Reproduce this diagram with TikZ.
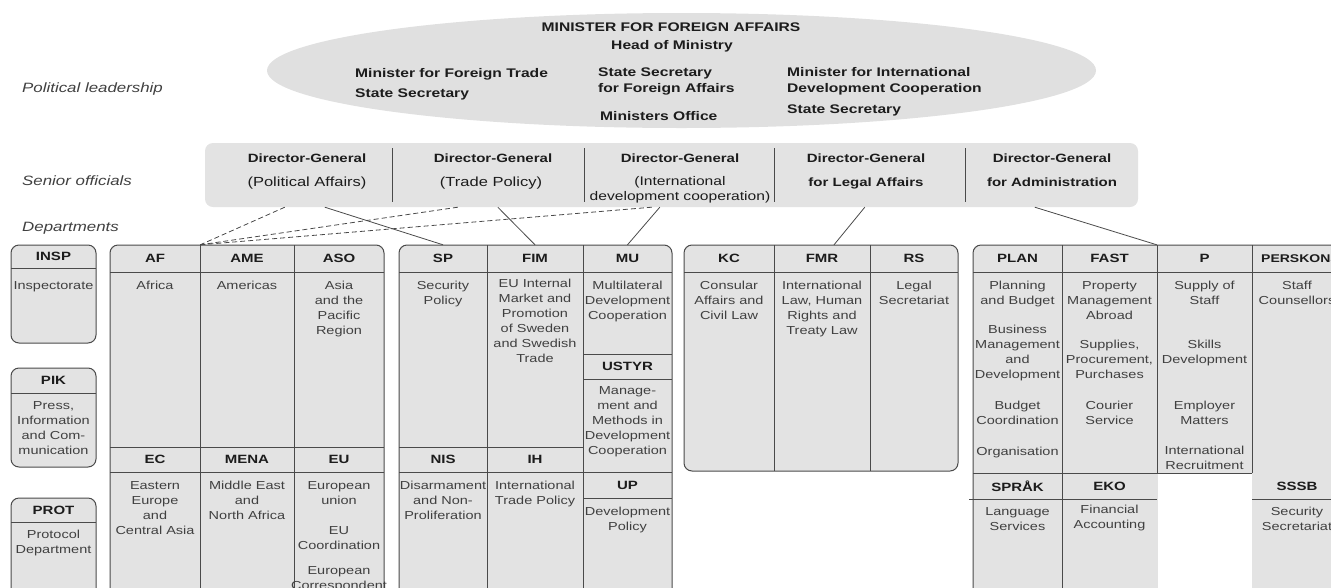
\documentclass[tikz,border=0pt]{standalone}
\usepackage{fontspec}
\setmainfont{Liberation Sans}[FakeStretch=1.25]
\usetikzlibrary{calc,shapes.geometric}
\definecolor{boxgray}{HTML}{E3E3E3}
\definecolor{ellgray}{HTML}{E0E0E0}
\definecolor{linec}{HTML}{4A4A4A}
\definecolor{txtc}{HTML}{404040}
\definecolor{headc}{HTML}{1C1C1C}
\newcommand\fBody{\fontsize{11.6}{15}\selectfont}
\newcommand\fHead{\fontsize{12}{14}\selectfont\bfseries}
\newcommand\fHeadS{\fontsize{11.2}{14}\selectfont\bfseries}
\newcommand\fLead{\fontsize{12.5}{16}\selectfont\bfseries}
\newcommand\fLabel{\fontsize{13.5}{16}\selectfont\itshape}
\newcommand\fDGa{\fontsize{12}{15}\selectfont\bfseries}
\newcommand\fDGb{\fontsize{13.2}{15}\selectfont}
\newcommand\fDGc{\fontsize{12.5}{15}\selectfont}
\begin{document}
\begin{tikzpicture}[x=1pt,y=-1pt,
  hd/.style={font=\fHead, text=headc, inner sep=0pt, minimum height=27pt},
  bd/.style={font=\fBody, text=txtc, align=center, inner sep=0pt, anchor=base},
  lt/.style={font=\fLead, text=headc, inner sep=0pt, align=left, anchor=base west},
  lbl/.style={font=\fLabel, text=txtc, inner sep=0pt, anchor=base west},
  dga/.style={font=\fDGa, text=headc, inner sep=0pt, anchor=base},
  dgb/.style={font=\fDGb, text=headc, inner sep=0pt, anchor=base, align=center},
  tl/.style={line width=1pt, draw=linec},
  grp/.style={fill=boxgray, draw=linec, line width=1pt, rounded corners=8pt},
  conn/.style={line width=0.8pt, draw=linec},
  dconn/.style={conn, dash pattern=on 5pt off 3pt}]
\useasboundingbox (0,0) rectangle (1331,587);
\begin{scope}
\clip (0,0) rectangle (1331,587);

% ---------- political leadership ----------
\node[ellipse, fill=ellgray, minimum width=829pt, minimum height=115pt, inner sep=0pt] (lead) at (681.5,70.5) {};
\node[lt, anchor=base] (mfa) at (671,31.5) {MINISTER FOR FOREIGN AFFAIRS};
\node[lt, anchor=base] (hom) at (672,49.5) {Head of Ministry};
\node[lt] (mft) at (355,77) {Minister for Foreign Trade};
\node[lt] (mfts) at (355,97) {State Secretary};
\node[lt] (ssfa) at (598,92) {State Secretary\\for Foreign Affairs};
\node[lt] (mo) at (600,120) {Ministers Office};
\node[lt] (midc) at (787,92) {Minister for International\\Development Cooperation};
\node[lt] (midcs) at (787,113) {State Secretary};

% ---------- left labels ----------
\node[lbl] (lpol) at (22,92.5) {Political leadership};
\node[lbl] (lsen) at (22,185.5) {Senior officials};
\node[lbl] (ldep) at (22,231.5) {Departments};

% ---------- senior officials ----------
\node[fill=boxgray, rounded corners=8pt, minimum width=933pt, minimum height=64pt, inner sep=0pt] (dgbox) at (671.5,175) {};
\draw[tl] (392,148) -- (392,202) (584,148) -- (584,202) (774,148) -- (774,202) (965,148) -- (965,202);
\node[dga] (dg1) at (307,162.5) {Director-General};
\node[dgb] (dg1s) at (307,186.5) {(Political Affairs)};
\node[dga] (dg2) at (493,162.5) {Director-General};
\node[dgb] (dg2s) at (491,186.5) {(Trade Policy)};
\node[dga] (dg3) at (680,162.5) {Director-General};
\node[dgb, font=\fDGc] (dg3s) at (680,200.5) {(International\\development cooperation)};
\node[dga] (dg4) at (866,162.5) {Director-General};
\node[dga] (dg4s) at (866,186.5) {for Legal Affairs};
\node[dga] (dg5) at (1052,162.5) {Director-General};
\node[dga] (dg5s) at (1052,186.5) {for Administration};

% ---------- staff units ----------
\draw[grp] (11,245) rectangle (96,343); \draw[tl] (11,268) -- (96,268);
\draw[grp] (11,368) rectangle (96,467); \draw[tl] (11,393) -- (96,393);
\draw[grp] (11,498) rectangle (96,640); \draw[tl] (11,522) -- (96,522);
\node[hd, minimum width=85pt, minimum height=23pt] (INSP) at (53.5,256.5) {INSP};
\node[bd] (INSPt) at (53.5,289) {Inspectorate};
\node[hd, minimum width=85pt, minimum height=25pt] (PIK) at (53.5,380.5) {PIK};
\node[bd] (PIKt) at (53.5,454) {Press,\\Information\\and Com-\\munication};
\node[hd, minimum width=85pt, minimum height=24pt] (PROT) at (53.5,510) {PROT};
\node[bd] (PROTt) at (53.5,553) {Protocol\\Department};

% ---------- group 1 ----------
\draw[grp] (110,640) -- (110,245) -- (384,245) -- (384,640);
\draw[tl] (200,245) -- (200,640) (294,245) -- (294,640) (110,272) -- (384,272) (110,447) -- (384,447) (110,472) -- (384,472);
\node[hd, minimum width=90pt] (AF) at (155,258.5) {AF};
\node[hd, minimum width=94pt] (AME) at (247,258.5) {AME};
\node[hd, minimum width=90pt] (ASO) at (339,258.5) {ASO};
\node[bd] (AFt) at (155,289) {Africa};
\node[bd] (AMEt) at (247,289) {Americas};
\node[bd] (ASOt) at (339,334) {Asia\\and the\\Pacific\\Region};
\node[hd, minimum width=90pt, minimum height=25pt] (EC) at (155,459.5) {EC};
\node[hd, minimum width=94pt, minimum height=25pt] (MENA) at (247,459.5) {MENA};
\node[hd, minimum width=90pt, minimum height=25pt] (EU) at (339,459.5) {EU};
\node[bd] (ECt) at (155,534) {Eastern\\Europe\\and\\Central Asia};
\node[bd] (MENAt) at (247,519) {Middle East\\and\\North Africa};
\node[bd] (EUt) at (339,589) {European\\union\\[15pt]EU\\Coordination\\[10pt]European\\Correspondent};

% ---------- group 2 ----------
\draw[grp] (399,640) -- (399,245) -- (672,245) -- (672,640);
\draw[tl] (487,245) -- (487,640) (583,245) -- (583,640) (399,272) -- (672,272) (399,447) -- (583,447) (399,472) -- (672,472) (583,354) -- (672,354) (583,379) -- (672,379) (583,498) -- (672,498);
\node[hd, minimum width=88pt] (SP) at (443,258.5) {SP};
\node[hd, minimum width=96pt] (FIM) at (535,258.5) {FIM};
\node[hd, minimum width=89pt] (MU) at (627.5,258.5) {MU};
\node[bd] (SPt) at (443,304) {Security\\Policy};
\node[bd] (FIMt) at (535,362) {EU Internal\\Market and\\Promotion\\of Sweden\\and Swedish\\Trade};
\node[bd] (MUt) at (627.5,319) {Multilateral\\Development\\Cooperation};
\node[hd, minimum width=89pt, minimum height=25pt] (USTYR) at (627.5,366.5) {USTYR};
\node[bd] (USTYRt) at (627.5,454) {Manage-\\ment and\\Methods in\\Development\\Cooperation};
\node[hd, minimum width=89pt, minimum height=26pt] (UP) at (627.5,485) {UP};
\node[bd] (UPt) at (627.5,530) {Development\\Policy};
\node[hd, minimum width=88pt, minimum height=25pt] (NIS) at (443,459.5) {NIS};
\node[hd, minimum width=96pt, minimum height=25pt] (IH) at (535,459.5) {IH};
\node[bd] (NISt) at (443,519) {Disarmament\\and Non-\\Proliferation};
\node[bd] (IHt) at (535,504) {International\\Trade Policy};

% ---------- group 3 ----------
\draw[grp] (684,245) rectangle (958,471);
\draw[tl] (774,245) -- (774,471) (870,245) -- (870,471) (684,272) -- (958,272);
\node[hd, minimum width=90pt] (KC) at (729,258.5) {KC};
\node[hd, minimum width=96pt] (FMR) at (822,258.5) {FMR};
\node[hd, minimum width=88pt] (RS) at (914,258.5) {RS};
\node[bd] (KCt) at (729,319) {Consular\\Affairs and\\Civil Law};
\node[bd] (FMRt) at (822,334) {International\\Law, Human\\Rights and\\Treaty Law};
\node[bd] (RSt) at (914,304) {Legal\\Secretariat};

% ---------- group 4 ----------
\draw[grp] (973,640) -- (973,245) -- (1342,245) -- (1342,640);
\fill[white] (1157.5,473.5) rectangle (1251.5,640);
\draw[tl] (1062,245) -- (1062,640) (1157,245) -- (1157,473) (1252,245) -- (1252,473) (973,272) -- (1342,272) (973,473) -- (1252,473) (969,499) -- (1157,499) (1252,499) -- (1342,499);
\node[hd, minimum width=89pt] (PLAN) at (1017.5,258.5) {PLAN};
\node[hd, minimum width=95pt] (FAST) at (1109.5,258.5) {FAST};
\node[hd, minimum width=95pt] (P) at (1204.5,258.5) {P};
\node[hd, font=\fHeadS, anchor=west] (PERS) at (1261,258.5) {PERSKONS};
\node[bd] (PLANt) at (1017.5,455) {Planning\\and Budget\\[14pt]Business\\Management\\and\\Development\\[16pt]Budget\\Coordination\\[16pt]Organisation};
\node[bd] (FASTt) at (1109.5,424) {Property\\Management\\Abroad\\[14pt]Supplies,\\Procurement,\\Purchases\\[16pt]Courier\\Service};
\node[bd] (Pt) at (1204.5,469) {Supply of\\Staff\\[29pt]Skills\\Development\\[31pt]Employer\\Matters\\[15pt]International\\Recruitment};
\node[bd] (PERSt) at (1297,304) {Staff\\Counsellors};
\node[hd, minimum width=89pt, minimum height=26pt] (SPRAK) at (1017.5,486) {SPRÅK};
\node[hd, minimum width=95pt, minimum height=26pt] (EKO) at (1109.5,486) {EKO};
\node[hd, minimum width=90pt, minimum height=26pt] (SSSB) at (1297,486) {SSSB};
\node[bd] (SPRAKt) at (1017.5,530) {Language\\Services};
\node[bd] (EKOt) at (1109.5,528) {Financial\\Accounting};
\node[bd] (SSSBt) at (1297,530) {Security\\Secretariat};

% ---------- connectors ----------
\coordinate (c1) at ($(dgbox.south west)+(80,0)$);
\coordinate (c2) at ($(dgbox.south west)+(253,0)$);
\coordinate (c3) at ($(dgbox.south west)+(447,0)$);
\coordinate (s1) at ($(dgbox.south west)+(120,0)$);
\coordinate (s2) at ($(dgbox.south west)+(293,0)$);
\coordinate (s3) at ($(dgbox.south west)+(455,0)$);
\coordinate (s4) at ($(dgbox.south west)+(660,0)$);
\coordinate (s5) at ($(dgbox.south west)+(830,0)$);
\draw[dconn] (c1) -- (AF.north east);
\draw[dconn] (c2) -- (AF.north east);
\draw[dconn] (c3) -- (AF.north east);
\draw[conn] (s1) -- (SP.north);
\draw[conn] (s2) -- (FIM.north);
\draw[conn] (s3) -- (MU.north);
\draw[conn] (s4) -- ([xshift=12pt]FMR.north);
\draw[conn] (s5) -- (P.north west);
\end{scope}
\end{tikzpicture}
\end{document}
